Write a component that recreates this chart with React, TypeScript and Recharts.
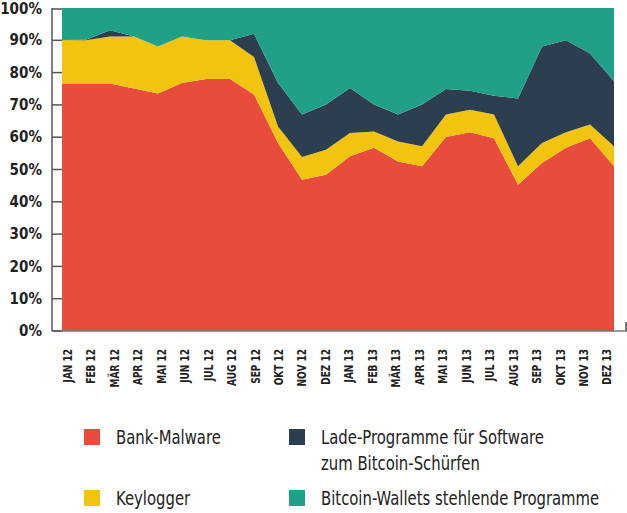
import React from "react";
import { AreaChart, Area, XAxis, YAxis } from "recharts";

const months = [
  "JAN 12", "FEB 12", "MÄR 12", "APR 12", "MAI 12", "JUN 12", "JUL 12", "AUG 12",
  "SEP 12", "OKT 12", "NOV 12", "DEZ 12", "JAN 13", "FEB 13", "MÄR 13", "APR 13",
  "MAI 13", "JUN 13", "JUL 13", "AUG 13", "SEP 13", "OKT 13", "NOV 13", "DEZ 13",
];

const bankMalware = [76.6, 76.6, 76.6, 75.1, 73.5, 76.8, 78.0, 78.0, 73.2, 58.2, 46.8, 48.4, 54.1, 56.7, 52.5, 51.0, 60.1, 61.5, 59.7, 45.3, 52.0, 56.7, 59.7, 51.0];
const keylogger = [13.5, 13.4, 14.6, 16.1, 14.6, 14.4, 12.0, 12.0, 11.6, 5.1, 7.1, 7.7, 7.2, 5.1, 6.2, 6.2, 6.9, 7.0, 7.3, 5.7, 6.2, 4.8, 4.2, 6.2];
const miners = [0, 0.2, 1.9, 0, 0, 0, 0, 0, 7.2, 13.5, 13.1, 14.0, 13.9, 8.3, 8.3, 12.9, 7.9, 5.9, 5.8, 21.0, 29.9, 28.5, 22.0, 20.1];
const wallets = [9.9, 9.8, 6.9, 8.8, 11.9, 8.8, 10.0, 10.0, 8.0, 23.2, 33.0, 29.9, 24.8, 29.9, 33.0, 29.9, 25.1, 25.6, 27.2, 28.0, 11.9, 10.0, 14.1, 22.7];

const yTicks = [0, 10, 20, 30, 40, 50, 60, 70, 80, 90, 100];

const seriesNames = [
  "Bank-Malware",
  "Keylogger",
  "Lade-Programme für Software\nzum Bitcoin-Schürfen",
  "Bitcoin-Wallets stehlende Programme",
];
const seriesKeys = ["bank", "keylogger", "miners", "wallets"];
const seriesColors = ["#E74C3C", "#F1C40F", "#2C3E50", "#20A086"];

const data = months.map((m, i) => ({
  month: m,
  bank: bankMalware[i],
  keylogger: keylogger[i],
  miners: miners[i],
  wallets: wallets[i],
}));

const FONT = "'DejaVu Sans Condensed', 'DejaVu Sans', sans-serif";
const AXIS_X = 52;

const YTick = (props: any) => {
  const { y, payload } = props;
  return (
    <g>
      <line x1={AXIS_X} x2={AXIS_X + 10} y1={y} y2={y} stroke="#555" strokeWidth={1.5} />
      <text
        transform={`translate(42,${y}) scale(0.94,1)`}
        x={0}
        y={0}
        textAnchor="end"
        dominantBaseline="central"
        fontFamily={FONT}
        fontWeight="bold"
        fontSize={16}
        fill="#222"
      >
        {payload.value}%
      </text>
    </g>
  );
};

const XTick = (props: any) => {
  const { x, y, payload, index } = props;
  const cx = x + 6 - index * 0.54;
  return (
    <text
      transform={`translate(${cx},${y}) rotate(-90) scale(0.8,1)`}
      textAnchor="end"
      dominantBaseline="central"
      fontFamily={FONT}
      fontWeight="bold"
      fontSize={12.5}
      fill="#222"
    >
      {payload.value}
    </text>
  );
};

const legendLayout = [
  { left: 84, top: 429 },
  { left: 84, top: 490 },
  { left: 289, top: 429 },
  { left: 289, top: 490 },
];

export default function App() {
  return (
    <div style={{ position: "absolute", left: 0, top: 0, width: 627, height: 513, background: "#fff", overflow: "hidden" }}>
      <AreaChart
        width={627}
        height={400}
        data={data}
        margin={{ top: 8, right: 0, left: 0, bottom: 0 }}
      >
        <XAxis
          dataKey="month"
          interval={0}
          padding={{ left: 10, right: 13 }}
          tickSize={0}
          tickMargin={18}
          tickLine={false}
          axisLine={{ stroke: "#777", strokeWidth: 1.5 }}
          tick={(p: any) => <XTick {...p} />}
          height={69}
        />
        <YAxis
          domain={[0, 100]}
          ticks={yTicks}
          width={52}
          tickLine={false}
          axisLine={{ stroke: "#555", strokeWidth: 1.5 }}
          tick={(p: any) => <YTick {...p} />}
          allowDataOverflow
        />
        {seriesKeys.map((k, i) => (
          <Area
            key={k}
            type="linear"
            dataKey={k}
            stackId="1"
            stroke="none"
            fill={seriesColors[i]}
            fillOpacity={1}
            isAnimationActive={false}
            activeDot={false}
          />
        ))}
      </AreaChart>
      <div style={{ position: "absolute", left: 625, top: 322, width: 1.5, height: 9, background: "#777" }} />
      {seriesNames.map((name, i) => (
        <div key={name} style={{ position: "absolute", left: legendLayout[i].left, top: legendLayout[i].top }}>
          <div style={{ position: "absolute", left: 0, top: 0, width: 16, height: 16, background: seriesColors[i] }} />
          <div
            style={{
              position: "absolute",
              left: 32,
              top: -5,
              whiteSpace: "pre",
              fontFamily: FONT,
              fontSize: 20,
              lineHeight: "26px",
              color: "#222",
              transform: "scaleX(0.825)",
              transformOrigin: "0 0",
            }}
          >
            {name}
          </div>
        </div>
      ))}
    </div>
  );
}
